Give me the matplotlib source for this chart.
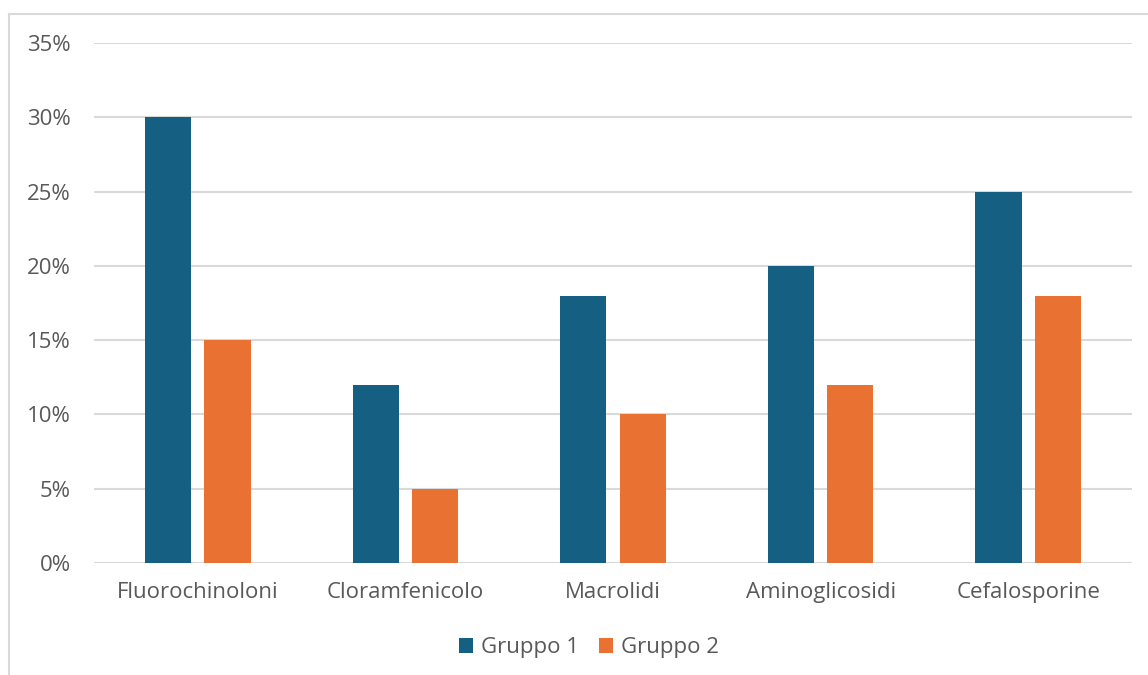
import matplotlib
matplotlib.use("Agg")
import matplotlib.pyplot as plt
from matplotlib.lines import Line2D
from matplotlib.ticker import FuncFormatter
import numpy as np

categories = ["Fluorochinoloni", "Cloramfenicolo", "Macrolidi", "Aminoglicosidi", "Cefalosporine"]
gruppo1 = [30, 12, 18, 20, 25]
gruppo2 = [15, 5, 10, 12, 18]
series_names = ["Gruppo 1", "Gruppo 2"]
yticks = [0, 5, 10, 15, 20, 25, 30, 35]

BLUE = "#156082"
ORANGE = "#E97132"
TEXT = "#595959"
GRID = "#D9D9D9"

plt.rcParams["font.family"] = ["Open Sans", "DejaVu Sans"]

W, H = 1148, 675
fig = plt.figure(figsize=(W / 100, H / 100), dpi=100)
ax = fig.add_axes([94 / W, 1 - 563 / H, (1132 - 94) / W, (563 - 43) / H])

x = np.arange(len(categories))
bw = 0.222
off = 0.143
ax.bar(x - off, gruppo1, bw, color=BLUE, label=series_names[0], zorder=3)
ax.bar(x + off, gruppo2, bw, color=ORANGE, label=series_names[1], zorder=3)

ax.set_xlim(-0.5, len(categories) - 0.5)
ax.set_ylim(0, 35)
ax.set_yticks(yticks)
ax.yaxis.set_major_formatter(FuncFormatter(lambda v, p: f"{v:.0f}%"))
ax.set_xticks(x)
ax.set_xticklabels(categories)
ax.tick_params(axis="both", length=0, colors=TEXT, labelsize=16)
ax.tick_params(axis="y", pad=16.5)
ax.tick_params(axis="x", pad=14)
ax.grid(axis="y", color=GRID, linewidth=1.5, zorder=0)
for s in ax.spines.values():
    s.set_visible(False)

leg = fig.legend(loc="center", bbox_to_anchor=(589 / W, 1 - 648 / H), ncol=2,
                 frameon=False, fontsize=16, handlelength=0.63, handleheight=0.63,
                 handletextpad=0.35, columnspacing=0.9)
for t in leg.get_texts():
    t.set_color(TEXT)

# outer chart frame (left and top edges)
fig.add_artist(Line2D([8.5 / W, 8.5 / W], [0, 1 - 14 / H], color=GRID, linewidth=1.5,
                      transform=fig.transFigure))
fig.add_artist(Line2D([8.5 / W, 1], [1 - 14 / H, 1 - 14 / H], color=GRID, linewidth=1.5,
                      transform=fig.transFigure))

fig.savefig("out.png", dpi=100)
